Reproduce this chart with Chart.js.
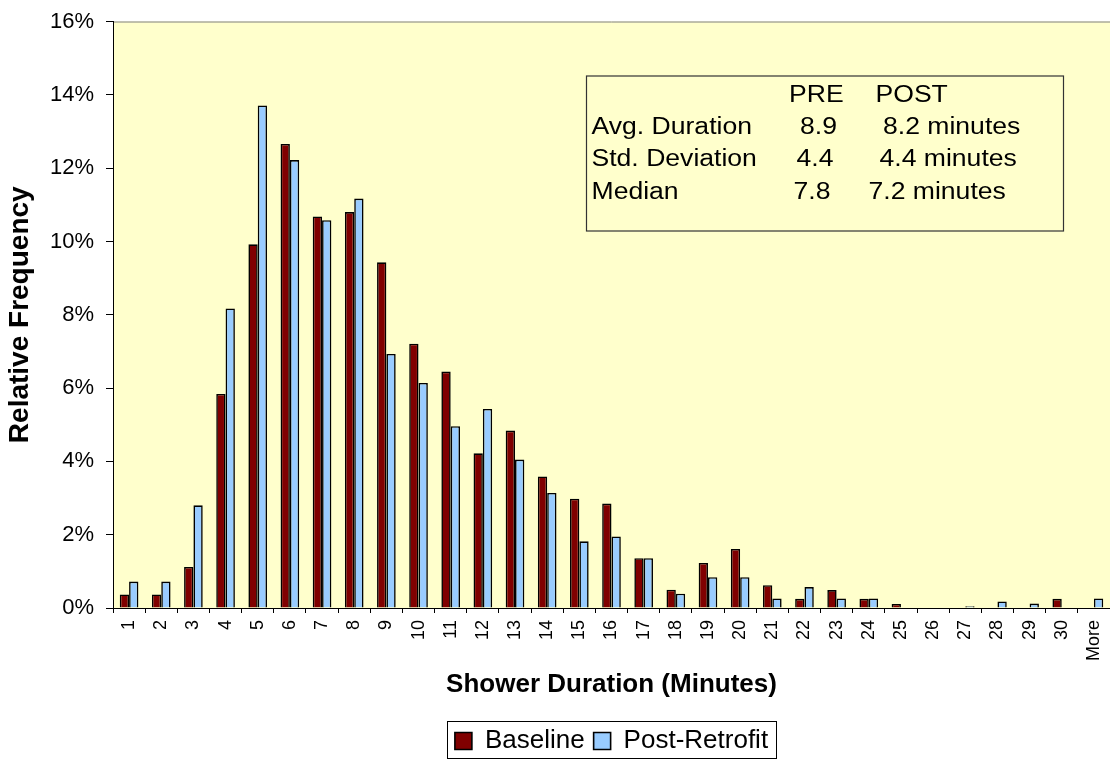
<!DOCTYPE html>
<html>
<head>
<meta charset="utf-8">
<script src="https://cdn.jsdelivr.net/npm/chart.js@4/dist/chart.umd.min.js"></script>
<style>
  html, body { margin: 0; padding: 0; background: #fff; overflow: hidden; }
  #wrap { width: 1110px; height: 760px; }
  canvas { display: block; }
</style>
</head>
<body>
<div id="wrap"><canvas id="chart" width="1110" height="760"></canvas></div>
<script>
// shower duration bins (minutes)
const categories = ['1','2','3','4','5','6','7','8','9','10','11','12','13','14','15',
  '16','17','18','19','20','21','22','23','24','25','26','27','28','29','30','More'];

// relative frequency, percent
const baseline = [0.37, 0.37, 1.12, 5.84, 9.92, 12.66, 10.68, 10.80, 9.43, 7.21, 6.45, 4.22,
  4.84, 3.59, 2.98, 2.85, 1.36, 0.50, 1.23, 1.61, 0.62, 0.25, 0.49, 0.25, 0.11,
  null, null, null, null, 0.25, null];
const postRetrofit = [0.72, 0.72, 2.80, 8.17, 13.71, 12.22, 10.58, 11.17, 6.93, 6.14, 4.96, 5.43,
  4.05, 3.14, 1.82, 1.95, 1.36, 0.39, 0.84, 0.84, 0.26, 0.57, 0.26, 0.26, null,
  null, 0.05, 0.18, 0.12, null, 0.26];

// summary table
const statHeaders = ['PRE', 'POST'];
const statLabels = ['Avg. Duration', 'Std. Deviation', 'Median'];
const preStats = ['8.9', '4.4', '7.8'];
const postStats = ['8.2 minutes', '4.4 minutes', '7.2 minutes'];

const FONT = "'Liberation Sans', Arial, sans-serif";
Chart.defaults.font.family = FONT;
Chart.defaults.color = '#000';

const plotFrame = {
  id: 'plotFrame',
  beforeDraw(chart) {
    const {ctx, chartArea: a} = chart;
    ctx.save();
    ctx.fillStyle = '#FFFFCC';
    ctx.fillRect(a.left, a.top, a.right - a.left, a.bottom - a.top);
    ctx.strokeStyle = '#808080';
    ctx.lineWidth = 1;
    ctx.beginPath();
    ctx.moveTo(a.left, a.top + 0.5);
    ctx.lineTo(a.right, a.top + 0.5);
    ctx.stroke();
    ctx.restore();
  }
};

const statsBox = {
  id: 'statsBox',
  afterDatasetsDraw(chart) {
    const {ctx, chartArea: a} = chart;
    const x0 = a.left + 473, y0 = a.top + 54, w = 477, h = 155;
    ctx.save();
    ctx.fillStyle = '#FFFFCC';
    ctx.fillRect(x0, y0, w, h);
    ctx.strokeStyle = '#333';
    ctx.lineWidth = 1.2;
    ctx.strokeRect(x0 + 0.5, y0 + 0.5, w, h);
    ctx.fillStyle = '#000';
    ctx.font = '23px ' + FONT;
    ctx.textBaseline = 'alphabetic';
    const put = (s, dx, dy) => {
      ctx.save();
      ctx.translate(x0 + dx, y0 + dy);
      ctx.scale(1.155, 1);
      ctx.fillText(s, 0, 0);
      ctx.restore();
    };
    const rows = [58, 90.5, 123];
    const preX = [214, 210.5, 207.5];
    const postX = [297, 293.5, 282.5];
    put(statHeaders[0], 203, 26.5);
    put(statHeaders[1], 289.5, 26.5);
    statLabels.forEach((s, i) => {
      put(s, 5.5, rows[i]);
      put(preStats[i], preX[i], rows[i]);
      put(postStats[i], postX[i], rows[i]);
    });
    ctx.restore();
  }
};

const legendFrame = {
  id: 'legendFrame',
  afterDraw(chart) {
    const boxes = chart.legend.legendHitBoxes;
    if (!boxes || !boxes.length) return;
    const first = boxes[0], last = boxes[boxes.length - 1];
    const left = first.left - 8;
    const right = last.left + last.width + 8;
    const mid = first.top + first.height / 2;
    // keep the frame inside the canvas
    const top = Math.min(Math.round(mid - 18.5), chart.height - 39);
    const ctx = chart.ctx;
    ctx.save();
    ctx.strokeStyle = '#000';
    ctx.lineWidth = 1;
    ctx.strokeRect(Math.round(left) + 0.5, top + 0.5, Math.round(right - left), 37);
    ctx.restore();
  }
};

new Chart(document.getElementById('chart'), {
  type: 'bar',
  data: {
    labels: categories,
    datasets: [
      {label: 'Baseline', data: baseline, backgroundColor: '#800000', borderColor: '#000', borderWidth: 1.6},
      {label: 'Post-Retrofit', data: postRetrofit, backgroundColor: '#99CCFF', borderColor: '#000', borderWidth: 1.6}
    ]
  },
  options: {
    responsive: false,
    animation: false,
    devicePixelRatio: 1,
    layout: {autoPadding: false, padding: {top: 21.5, left: 0, right: 0, bottom: -4}},
    datasets: {bar: {categoryPercentage: 0.58, barPercentage: 1.0}},
    scales: {
      x: {
        grid: {display: true, drawOnChartArea: false, offset: true, tickLength: 5, color: '#000'},
        border: {color: '#000', width: 1},
        ticks: {minRotation: 90, maxRotation: 90, autoSkip: false, padding: 7, font: {size: 18}},
        title: {display: true, text: 'Shower Duration (Minutes)', font: {size: 26, weight: 'bold'},
          padding: {top: 0, bottom: 19}},
        afterFit(scale) {
          scale.height = 111;
          scale.paddingLeft = 0;
          scale.paddingRight = 0;
        }
      },
      y: {
        min: 0, max: 16,
        grid: {display: true, drawOnChartArea: false, tickLength: 7, color: '#000'},
        border: {color: '#000', width: 1},
        ticks: {stepSize: 2, padding: 12, font: {size: 22}, callback: v => v + '%'},
        title: {display: true, text: 'Relative Frequency', font: {size: 28, weight: 'bold'},
          padding: {top: 3, bottom: 0}},
        afterFit(scale) {
          scale.width = 113;
          scale.paddingTop = 0;
          scale.paddingBottom = 0;
        }
      }
    },
    plugins: {
      legend: {
        position: 'bottom',
        fullSize: false,
        labels: {boxWidth: 17, boxHeight: 17, padding: 9, font: {size: 26}}
      },
      tooltip: {enabled: false}
    }
  },
  plugins: [plotFrame, statsBox, legendFrame]
});
</script>
</body>
</html>
